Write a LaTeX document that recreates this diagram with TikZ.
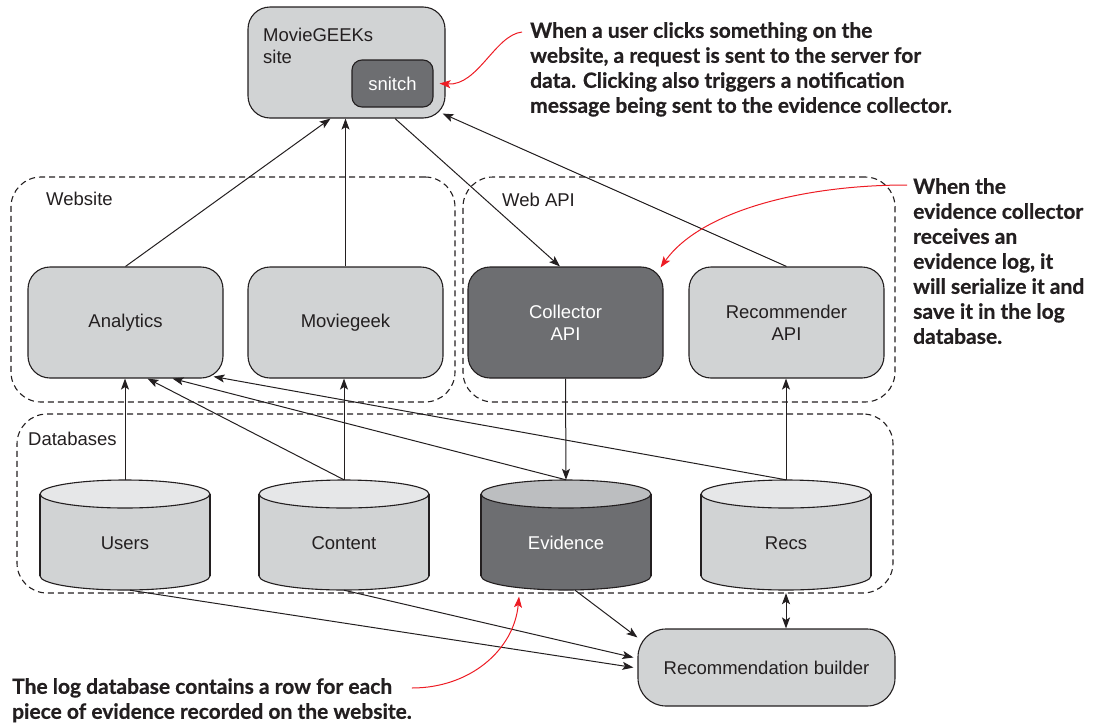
\documentclass[tikz,border=0pt]{standalone}
\usepackage{fontspec}
\setmainfont{Liberation Sans}
\newfontfamily\notefont{Lato}[BoldFeatures={FakeBold=0.6}]
\usetikzlibrary{arrows.meta, positioning}
\definecolor{boxgray}{HTML}{D1D3D4}
\definecolor{capgray}{HTML}{E6E7E8}
\definecolor{darkgray}{HTML}{6D6E71}
\definecolor{capdark}{HTML}{BCBEC0}
\definecolor{inkline}{HTML}{231F20}
\definecolor{notered}{HTML}{ED1C24}
\tikzset{
    box/.style={rectangle, draw=inkline, line width=1.1pt, rounded corners=22pt, fill=boxgray, minimum width=195pt, minimum height=111pt, align=center, text=inkline, font=\fontsize{18.5}{22}\selectfont},
    darkbox/.style={box, fill=darkgray, text=white},
    group/.style={rectangle, draw=inkline, dash pattern=on 6pt off 4pt, line width=1.1pt, rounded corners=30pt},
    grouplabel/.style={anchor=base west, inner sep=0pt, text=inkline, font=\fontsize{18.5}{22}\selectfont},
    dbnode/.style={rectangle, minimum width=170pt, minimum height=110pt, inner sep=0pt, text height=29pt, text depth=0pt, font=\fontsize{18.5}{22}\selectfont},
    arrow/.style={-{Stealth[length=11pt, width=8pt, inset=2.5pt]}, line width=1pt, draw=inkline},
    redarrow/.style={-{Stealth[length=11pt, width=8pt, inset=2.5pt]}, line width=1pt, draw=notered},
    note/.style={anchor=north west, align=left, inner sep=0pt, text=inkline, font=\notefont\bfseries\fontsize{21}{25}\selectfont}
}

\begin{document}
\begin{tikzpicture}[x=1pt, y=-1pt]
    \useasboundingbox (0,0) rectangle (1095,726);

    % groups
    \node[group, minimum width=444pt, minimum height=225pt] (website) at (233,289.5) {};
    \node[group, minimum width=432pt, minimum height=225pt] (webapi) at (679,289.5) {};
    \node[group, minimum width=876pt, minimum height=179pt] (databases) at (455,503.5) {};
    \node[grouplabel] (websitelbl) at (46,205) {Website};
    \node[grouplabel] (webapilbl) at (502,206) {Web API};
    \node[grouplabel] (databaseslbl) at (28,445) {Databases};

    % site
    \node[box, minimum width=197pt] (site) at (346.5,62.5) {};
    \node[grouplabel, anchor=north west, align=left] (sitelbl) at (263,28) {MovieGEEKs\\site};
    \node[darkbox, rounded corners=10pt, minimum width=81pt, minimum height=47pt] (snitch) at (392.5,83.5) {snitch};

    % services
    \node[box] (analytics) at (125.5,322.5) {Analytics};
    \node[box] (moviegeek) at (345.5,322.5) {Moviegeek};
    \node[darkbox] (collector) at (565.5,322.5) {Collector\\API};
    \node[box] (recommender) at (786.5,322.5) {Recommender\\API};

    % databases
    \foreach \nm/\cx/\txt/\body/\cap/\ink in {users/125/Users/boxgray/capgray/inkline, content/344/Content/boxgray/capgray/inkline, evidence/566/Evidence/darkgray/capdark/white, recs/786/Recs/boxgray/capgray/inkline}{
        \filldraw[fill=\body, draw=inkline, line width=1.1pt] (\cx,576) ellipse [x radius=85, y radius=14];
        \fill[\body] (\cx-85,494) rectangle (\cx+85,576);
        \draw[inkline, line width=1.1pt] (\cx-85,494) -- (\cx-85,576) (\cx+85,494) -- (\cx+85,576);
        \filldraw[fill=\cap, draw=inkline, line width=1.1pt] (\cx,494) ellipse [x radius=85, y radius=14];
        \node[dbnode, text=\ink] (\nm) at (\cx,535) {\txt};
    }

    \node[box, rounded corners=28pt, minimum width=257pt, minimum height=77pt] (builder) at (766.5,667.5) {Recommendation builder};

    % connectors
    \draw[arrow] (analytics.north) -- ([xshift=-16pt]site.south);
    \draw[arrow] (moviegeek.north) -- (moviegeek.north |- site.south);
    \draw[arrow] ([xshift=48.5pt]site.south) -- ([xshift=-5.5pt]collector.north);
    \draw[arrow] (recommender.north) -- ([xshift=-3pt, yshift=5pt]site.south east);

    \draw[arrow] (users.north) -- (users.north |- analytics.south);
    \draw[arrow] (content.north) -- ([xshift=22pt]analytics.south);
    \draw[arrow] (evidence.north) -- ([xshift=47pt]analytics.south);
    \draw[arrow] (recs.north) -- ([xshift=-10pt, yshift=2pt]analytics.south east);
    \draw[arrow] (content.north) -- (content.north |- moviegeek.south);
    \draw[arrow] (collector.south) -- (evidence.north);
    \draw[arrow] (recs.north) -- (recs.north |- recommender.south);

    \draw[arrow] ([xshift=9pt]evidence.south) -- ([yshift=-9pt]builder.north west);
    \draw[arrow] (content.south) -- ([xshift=-4pt, yshift=10pt]builder.west);
    \draw[arrow] ([xshift=5pt]users.south) -- ([xshift=-4pt]builder.west);
    \draw[{Stealth[length=11pt, width=8pt, inset=2.5pt]}-{Stealth[length=11pt, width=8pt, inset=2.5pt]}, line width=1pt, draw=inkline] ([yshift=-3pt]recs.south) -- (recs.south |- builder.north);

    % notes
    \node[note] (n1) at (530,22) {When a user clicks something on the\\website, a request is sent to the server for\\data. Clicking also triggers a notification\\message being sent to the evidence collector.};
    \node[note] (n2) at (913,178) {When the\\evidence collector\\receives an\\evidence log, it\\will serialize it and\\save it in the log\\database.};
    \node[note] (n3) at (12,678) {The log database contains a row for each\\piece of evidence recorded on the website.};

    \draw[redarrow] ([xshift=-8pt, yshift=-10pt]n1.north west) .. controls (495,35) and (478,86) .. ([xshift=6pt]snitch.east);
    \draw[redarrow] ([xshift=-6pt, yshift=-7pt]n2.north west) .. controls (800,185) and (700,212) .. ([xshift=-3pt, yshift=-1pt]collector.north east);
    \draw[redarrow] ([xshift=0pt, yshift=-10pt]n3.north east) .. controls (470,688) and (514,650) .. ([xshift=64pt, yshift=-3pt]databases.south);
\end{tikzpicture}
\end{document}
